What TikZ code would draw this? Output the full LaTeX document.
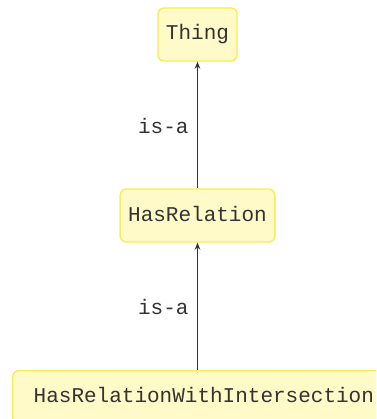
\documentclass[tikz,border=0pt]{standalone}
\usepackage{fontspec}
\setmonofont{Liberation Mono}
\usetikzlibrary{arrows.meta}
\definecolor{boxfill}{HTML}{FFFAC8}
\definecolor{boxline}{HTML}{F8EC55}
\definecolor{ink}{HTML}{333333}
\begin{document}
\begin{tikzpicture}[x=1pt, y=-1pt,
    every node/.style={font=\ttfamily\fontsize{21}{25}\selectfont, text=ink},
    classbox/.style={draw=boxline, fill=boxfill, line width=1.4pt, rounded corners=6pt,
        minimum height=53pt, inner xsep=8pt, text height=11pt, text depth=0pt},
    isa/.style={-{Stealth[length=7pt, width=5.5pt]}, ink, line width=1.4pt}]
    \useasboundingbox (0,0) rectangle (376,419);
    \clip (0,0) rectangle (376,419);
    \node[classbox] (thing) at (197.5,34.5) {Thing};
    \node[classbox] (hasrel) at (197.5,215.5) {HasRelation};
    \node[classbox, anchor=north west, inner xsep=21pt] (hasrelint) at (12,370) {HasRelationWithIntersection};
    \draw[isa] (hasrel.north -| thing.south) -- (thing.south)
        node[midway, left, xshift=-5pt, yshift=-1pt] (isa1) {is-a};
    \draw[isa] (hasrelint.north -| hasrel.south) -- (hasrel.south)
        node[midway, left, xshift=-5pt, yshift=-1pt] (isa2) {is-a};
\end{tikzpicture}
\end{document}
